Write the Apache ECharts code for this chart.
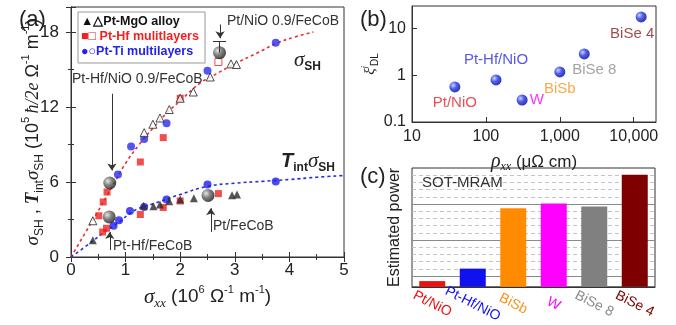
<!DOCTYPE html>
<html><head><meta charset="utf-8">
<script src="https://cdn.jsdelivr.net/npm/echarts@6/dist/echarts.min.js"></script>
<style>html,body{margin:0;padding:0;background:#fff}#c{width:676px;height:325px}</style>
</head><body><div id="c"></div>
<script>
// ---------- Panel (a): [sigma_xx (1e6 /ohm/m), value (1e5 hbar/2e /ohm/m)] ----------
const mgoT = [[0.40,1.35],[1.33,4.1],[1.51,4.06],[1.63,4.2],[1.80,4.46],[2.0,4.6],[2.25,4.7],[2.95,4.95],[3.04,5.0]];
const mgoS = [[0.40,2.9],[1.34,9.95],[1.50,10.62],[1.63,11.12],[1.80,11.8],[2.0,12.7],[2.24,13.2],[2.55,14.4],[2.93,15.45],[3.03,15.4]];
const hfS = [[0.51,3.3],[0.59,4.4],[0.66,5.2],[1.27,7.6],[1.69,9.55],[2.0,12.7]];
const hfSopen = [[2.70,15.6]];
const hfT = [[0.58,2.0],[0.65,2.3],[1.27,3.4],[1.69,3.96],[2.0,4.48],[2.70,5.07]];
const tiS = [[0.86,6.6],[1.10,8.85],[1.34,9.45],[1.75,10.7],[2.50,14.9],[3.75,17.14]];
const tiT = [[0.78,2.5],[0.88,2.95],[1.08,3.69],[1.34,4.0],[1.75,4.6],[2.50,5.8],[3.75,6.05]];
const sphereNames = ['Pt/NiO 0.9/FeCoB','Pt-Hf/NiO 0.9/FeCoB','Pt-Hf/FeCoB','Pt/FeCoB'];
const sphereX = [2.72,0.71,0.70,2.51];
const sphereY = [16.35,5.92,3.21,4.93];
const errTop = 17.28;
const fitS = [[0,0],[0.25,1.85],[0.5,3.7],[0.75,5.6],[1.0,7.5],[1.25,9.0],[1.5,10.3],[1.75,11.5],[2.0,12.5],[2.36,13.9],[2.6,14.5],[3.0,15.45],[3.4,16.3],[3.77,17.1],[4.1,17.6],[4.44,18.0]];
const fitT = [[0,0],[0.3,0.95],[0.6,1.95],[0.78,2.5],[0.9,2.85],[1.08,3.5],[1.25,3.9],[1.5,4.25],[2.0,5.0],[2.5,5.65],[3.0,5.9],[3.5,6.05],[4.0,6.2],[4.5,6.38],[5.0,6.52]];
// annotation arrows: [from, to] in data units
const arrows = [[[2.73,18.6],[2.73,17.5]],[[0.75,13.06],[0.75,6.93]],[[0.71,0.56],[0.71,2.0]],[[2.56,2.0],[2.56,3.9]]];

// ---------- Panel (b) ----------
const bNames = ['Pt/NiO','Pt-Hf/NiO','W','BiSb','BiSe 8','BiSe 4'];
const bRho = [38,137,309,1000,2140,12600];
const bXi = [0.56,0.79,0.295,1.17,2.84,17.5];
const bColors = ['#e8202a','#2a2ae0','#ff00ff','#f7941d','#8c8c8c','#8b1a1a'];

// ---------- Panel (c) (arbitrary units) ----------
const cCats = ['Pt/NiO','Pt-Hf/NiO','BiSb','W','BiSe 8','BiSe 4'];
const cPower = [1.44,3.2,152,207,171,1295];
const cColors = ['#ee1111','#1111ee','#ff8c00','#ff00ff','#808080','#7f0000'];
const cLabelColors = ['#ee1111','#1111ee','#f7941d','#ff00ff','#8c8c8c','#7f0000'];
const cMajor = [2,20,200];
const cMinor = [3.17,5.02,7.96,12.6,31.7,50.2,79.6,126,317,502,796,1262];

const sans = '"Liberation Sans", Arial, sans-serif';
const serif = '"Liberation Serif", "Times New Roman", serif';
const ink = '#222';

const chart = echarts.init(document.getElementById('c'));
const sphereGray = new echarts.graphic.RadialGradient(0.35,0.35,0.7,[{offset:0,color:'#e0e0e0'},{offset:0.45,color:'#666'},{offset:1,color:'#151515'}]);
const sphereBlue = new echarts.graphic.RadialGradient(0.35,0.35,0.7,[{offset:0,color:'#c0ccff'},{offset:0.45,color:'#2236ee'},{offset:1,color:'#00008a'}]);

const bPlace = [
  {position:'bottom', offset:[0,-2]},
  {position:'top', offset:[0,-2]},
  {position:'right', offset:[-3,0]},
  {position:'bottom', offset:[0,-1]},
  {position:'bottom', offset:[10,-2]},
  {position:'bottom', offset:[-9,-1]}
];

const richAY = {
  s:{fontFamily:serif,fontStyle:'italic',fontSize:19,color:ink,lineHeight:26},
  t:{fontFamily:serif,fontStyle:'italic',fontWeight:'bold',fontSize:19,color:ink,lineHeight:26},
  sb:{fontFamily:sans,fontSize:12,color:ink,verticalAlign:'bottom',lineHeight:26},
  sp:{fontFamily:sans,fontSize:11,color:ink,verticalAlign:'top',lineHeight:26},
  n:{fontFamily:sans,fontSize:18,color:ink,lineHeight:26},
  h:{fontFamily:serif,fontStyle:'italic',fontSize:18,color:ink,lineHeight:26}
};

function scatter(data, symbol, size, color, border){
  return {type:'scatter', xAxisIndex:0, yAxisIndex:0, data, symbol, symbolSize:size,
    itemStyle: border ? {color:'#fff', borderColor:border, borderWidth:1} : {color}, z:3, silent:true};
}

const option = {
  animation:false,
  grid:[
    {left:71, top:7, width:273, height:250, show:true, borderColor:'#333', borderWidth:1},
    {left:412, top:6, width:244, height:116, show:true, borderColor:'#333', borderWidth:1},
    {left:412, top:168, width:243, height:125, show:true, borderColor:'#333', borderWidth:1}
  ],
  xAxis:[
    {type:'value', gridIndex:0, min:0, max:5, interval:1,
     axisLine:{lineStyle:{color:'#333'}}, axisTick:{inside:true,length:5,lineStyle:{color:'#333'}},
     minorTick:{show:true,splitNumber:2,length:3,lineStyle:{color:'#333'}},
     splitLine:{show:false}, axisLabel:{fontSize:17,color:ink,fontFamily:sans,margin:5},
     name:'{s|σ}{sx|xx}{n| (10}{sp|6}{n| Ω}{sp|-1}{n| m}{sp|-1}{n|)}', nameLocation:'middle', nameGap:27,
     nameTextStyle:{rich:{
       s:{fontFamily:serif,fontStyle:'italic',fontSize:21,color:ink,lineHeight:26},
       sx:{fontFamily:serif,fontStyle:'italic',fontSize:13,color:ink,verticalAlign:'bottom',lineHeight:26},
       sp:{fontFamily:sans,fontSize:11,color:ink,verticalAlign:'top',lineHeight:26},
       n:{fontFamily:sans,fontSize:19,color:ink,lineHeight:26}}}},
    {type:'value', gridIndex:0, position:'top', min:0, max:5, interval:1,
     axisLine:{lineStyle:{color:'#333'}}, axisTick:{inside:true,length:5,lineStyle:{color:'#333'}},
     minorTick:{show:true,splitNumber:2,length:3,lineStyle:{color:'#333'}},
     axisLabel:{show:false}, splitLine:{show:false}},
    {type:'log', gridIndex:1, min:10, max:20000, logBase:10,
     axisLine:{lineStyle:{color:'#333'}}, axisTick:{inside:true,length:5,lineStyle:{color:'#333'}},
     splitLine:{show:false}, axisLabel:{fontSize:16,color:ink,fontFamily:sans,margin:7,showMaxLabel:false},
     name:'{r|ρ}{sx|xx}{n| (μΩ cm)}', nameLocation:'middle', nameGap:29,
     nameTextStyle:{rich:{
       r:{fontFamily:serif,fontStyle:'italic',fontSize:20,color:ink,lineHeight:22},
       sx:{fontFamily:serif,fontStyle:'italic',fontSize:12,color:ink,verticalAlign:'bottom',lineHeight:22},
       n:{fontFamily:sans,fontSize:17,color:ink,lineHeight:22}}}},
    {type:'category', gridIndex:2, data:cCats,
     axisLine:{lineStyle:{color:'#333'}}, axisTick:{show:false}, splitLine:{show:false},
     axisLabel:{interval:0, rotate:-27, align:'center', verticalAlign:'middle', margin:17, fontSize:14, fontFamily:sans,
       color:(v,i)=>cLabelColors[i]}}
  ],
  yAxis:[
    {type:'value', gridIndex:0, min:0, max:20, interval:6,
     axisLine:{lineStyle:{color:'#333'}}, axisTick:{inside:true,length:5,lineStyle:{color:'#333'}},
     minorTick:{show:true,splitNumber:2,length:3,lineStyle:{color:'#333'}},
     splitLine:{show:false}, axisLabel:{fontSize:17,color:ink,fontFamily:sans,margin:12,showMaxLabel:false},
     name:'{s|σ}{sb|SH}{n| , }{t|T}{sb|int}{s|σ}{sb|SH}{n| (10}{sp|5} {h|ħ/2e}{n| Ω}{sp|-1}{n| m}{sp|-1}{n|)}',
     nameLocation:'middle', nameGap:25, nameMoveOverlap:false, nameTextStyle:{rich:richAY}},
    {type:'value', gridIndex:0, position:'right', min:0, max:20, interval:6,
     axisLine:{lineStyle:{color:'#333'}}, axisTick:{inside:true,length:5,lineStyle:{color:'#333'}},
     minorTick:{show:true,splitNumber:2,length:3,lineStyle:{color:'#333'}},
     axisLabel:{show:false}, splitLine:{show:false}},
    {type:'log', gridIndex:1, min:0.1, max:30, logBase:10,
     axisLine:{lineStyle:{color:'#333'}}, axisTick:{inside:true,length:5,lineStyle:{color:'#333'}},
     splitLine:{show:false}, axisLabel:{fontSize:16,color:ink,fontFamily:sans,margin:6,showMaxLabel:false},
     name:'{x|ξ}{sp|j}{sb|DL}', nameLocation:'middle', nameGap:28,
     nameTextStyle:{rich:{
       x:{fontFamily:serif,fontStyle:'italic',fontSize:15,color:ink,lineHeight:20},
       sp:{fontFamily:serif,fontStyle:'italic',fontSize:9,color:ink,verticalAlign:'top',lineHeight:20},
       sb:{fontFamily:sans,fontSize:10,color:ink,verticalAlign:'bottom',lineHeight:20}}}},
    {type:'log', gridIndex:2, min:1, max:2000, logBase:10,
     axisLine:{lineStyle:{color:'#333'}}, axisTick:{show:false}, axisLabel:{show:false}, splitLine:{show:false},
     name:'Estimated power', nameLocation:'middle', nameGap:9,
     nameTextStyle:{fontFamily:sans,fontSize:16,color:ink}}
  ],
  series:[
    {type:'line', xAxisIndex:0, yAxisIndex:0, data:fitS, smooth:true, symbol:'none', silent:true, z:2,
     lineStyle:{color:'#e83232', width:1.6, type:[3,3]}},
    {type:'line', xAxisIndex:0, yAxisIndex:0, data:fitT, smooth:true, symbol:'none', silent:true, z:2,
     lineStyle:{color:'#2a2ae6', width:1.6, type:[3,3]}},
    scatter(hfT,'rect',7,'#ee2222'),
    scatter(hfS,'rect',7,'#ee2222'),
    scatter(hfSopen,'rect',7,null,'#ee2222'),
    scatter(tiT,'circle',8,'#1e1eee'),
    scatter(tiS,'circle',8,'#2a2aee'),
    scatter(mgoT,'triangle',8,'#2a2a2a'),
    scatter(mgoS,'triangle',8,null,'#222'),
    {type:'scatter', xAxisIndex:0, yAxisIndex:0, z:4, silent:true, symbolSize:13,
     itemStyle:{color:sphereGray},
     data: sphereX.map((x,i)=>({name:sphereNames[i], value:[x,sphereY[i]]})),
     markLine:{silent:true, symbol:['none','none'], label:{show:false}, animation:false,
       lineStyle:{color:'#333', width:1, type:'solid'},
       data:[
         [{coord:[sphereX[0],sphereY[0]]},{coord:[sphereX[0],errTop]}],
         [{coord:[sphereX[0]-0.12,errTop]},{coord:[sphereX[0]+0.12,errTop]}]
       ].concat(arrows.map(a=>[{coord:a[0], symbol:'none'},{coord:a[1], symbol:'arrow', symbolSize:7}]))}},
    {type:'scatter', xAxisIndex:2, yAxisIndex:2, symbolSize:11, silent:true,
     itemStyle:{color:sphereBlue},
     data: bRho.map((r,i)=>({name:bNames[i], value:[r,bXi[i]],
       label:Object.assign({show:true, formatter:'{b}', color:bColors[i], fontSize:15, fontFamily:sans}, bPlace[i])}))},
    {type:'line', xAxisIndex:3, yAxisIndex:3, data:[], z:1, silent:true,
     markLine:{z:1, silent:true, symbol:['none','none'], label:{show:false}, animation:false,
       data: cMajor.map(v=>({yAxis:v, lineStyle:{color:'#8a8a8a', width:1, type:'solid'}}))
         .concat(cMinor.map(v=>({yAxis:v, lineStyle:{color:'#c4c4c4', width:1, type:[4,3]}})))}},
    {type:'bar', xAxisIndex:3, yAxisIndex:3, z:8, barWidth:26, silent:true,
     data: cPower.map((v,i)=>({value:v, itemStyle:{color:cColors[i]}}))}
  ],
  graphic:[
    {type:'text', left:19, top:9, style:{text:'(a)', fontSize:22, fontFamily:sans, fill:ink}},
    {type:'text', left:360, top:9, style:{text:'(b)', fontSize:22, fontFamily:sans, fill:ink}},
    {type:'text', left:360, top:166, style:{text:'(c)', fontSize:22, fontFamily:sans, fill:ink}},
    {type:'text', left:422, top:175, z:10, style:{text:'SOT-MRAM', fontSize:15, fontFamily:sans, fill:'#333'}},
    {type:'rect', shape:{x:78,y:12,width:127,height:51}, style:{fill:'#fff', stroke:'#999', lineWidth:1}, z:10},
    {type:'text', left:81, top:15, z:11, style:{text:'▲△Pt-MgO alloy', fontSize:12.5, fontWeight:'bold', fontFamily:sans, fill:'#111'}},
    {type:'text', left:81, top:30, z:11, style:{text:'■□ Pt-Hf mulitlayers', fontSize:12.5, fontWeight:'bold', fontFamily:sans, fill:'#ee2222'}},
    {type:'text', left:81, top:45, z:11, style:{text:'●○Pt-Ti multilayers', fontSize:12.5, fontWeight:'bold', fontFamily:sans, fill:'#2222ee'}},
    {type:'text', left:227, top:14, z:11, style:{text:'Pt/NiO 0.9/FeCoB', fontSize:14, fontFamily:sans, fill:'#333'}},
    {type:'text', left:72, top:72, z:11, style:{text:'Pt-Hf/NiO 0.9/FeCoB', fontSize:14, fontFamily:sans, fill:'#333'}},
    {type:'text', left:113, top:239, z:11, style:{text:'Pt-Hf/FeCoB', fontSize:14, fontFamily:sans, fill:'#333'}},
    {type:'text', left:213, top:219, z:11, style:{text:'Pt/FeCoB', fontSize:14, fontFamily:sans, fill:'#333'}},
    {type:'text', left:294, top:50, z:11, style:{text:'{s|σ}{b|SH}', rich:{
       s:{fontFamily:serif,fontStyle:'italic',fontSize:21,fill:ink,lineHeight:24},
       b:{fontFamily:sans,fontWeight:'bold',fontSize:12,fill:ink,verticalAlign:'bottom',lineHeight:24}}}},
    {type:'text', left:281, top:151, z:11, style:{text:'{t|T}{b|int}{s|σ}{b|SH}', rich:{
       t:{fontFamily:sans,fontStyle:'italic',fontWeight:'bold',fontSize:20,fill:ink,lineHeight:24},
       s:{fontFamily:serif,fontStyle:'italic',fontSize:21,fill:ink,lineHeight:24},
       b:{fontFamily:sans,fontWeight:'bold',fontSize:12,fill:ink,verticalAlign:'bottom',lineHeight:24}}}}
  ]
};
chart.setOption(option);
</script></body></html>
